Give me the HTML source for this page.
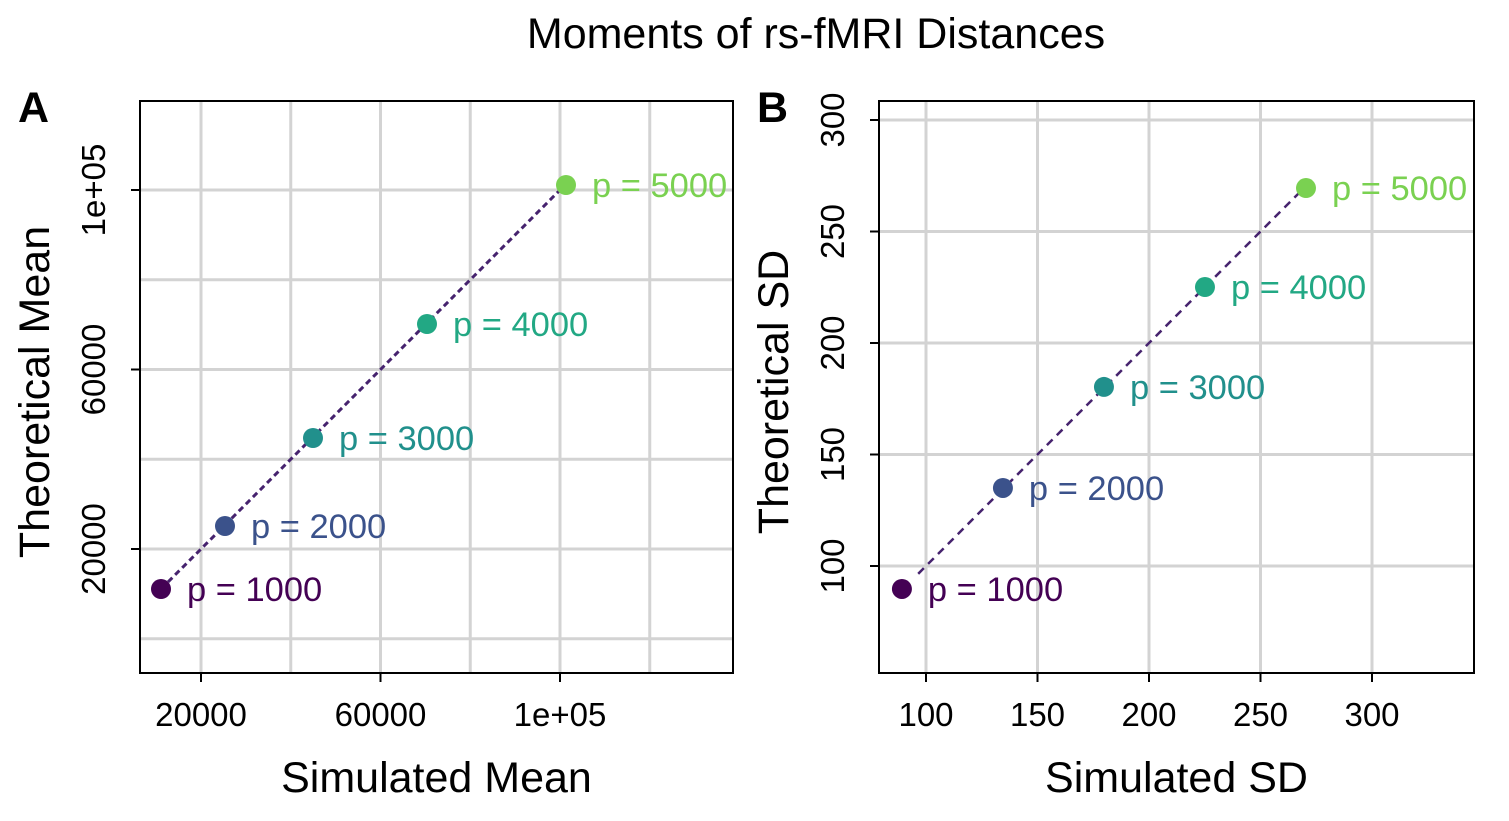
<!DOCTYPE html>
<html><head><meta charset="utf-8"><style>
html,body{margin:0;padding:0;background:#fff;}
svg text{font-family:"Liberation Sans",Arial,sans-serif;}
</style></head><body>
<svg id="chart" width="1509" height="816" xmlns="http://www.w3.org/2000/svg">
<text x="816" y="48" font-size="43" text-anchor="middle">Moments of rs-fMRI Distances</text>
<g id="pa"></g>
<g id="pb"></g>
</svg>
<script>
const labels = ["p = 1000","p = 2000","p = 3000","p = 4000","p = 5000"];
const colors = ["#440154","#3B528B","#21908C","#22A884","#7AD151"];
const meanSim = [11086,25348,44958,70362,101337];
const meanTheo = [11086,25125,44735,70139,101114];
const sdSim = [89.2,134.5,179.8,225.1,270.4];
const sdTheo = [89.7,135,180.3,225.1,269.5];
const meanTicks = [20000,60000,100000];
const meanTickLabels = ["20000","60000","1e+05"];
const meanMinor = [0,40000,80000,120000];
const sdTicks = [100,150,200,250,300];
const sdTickLabels = ["100","150","200","250","300"];
const NS="http://www.w3.org/2000/svg";
function mk(p,t,a){const e=document.createElementNS(NS,t);for(const k in a)e.setAttribute(k,a[k]);p.appendChild(e);return e;}
function panel(g,cfg){
  const {x0,x1,y0,y1,sx,sy,ticks,tickLabels,minor,xs,ys,xt,yt,letter,lx,lineStart,dash}=cfg;
  const clipId='clip'+letter;
  const cp=mk(g,'clipPath',{id:clipId});mk(cp,'rect',{x:x0,y:y0,width:x1-x0,height:y1-y0});
  const gg=mk(g,'g',{'clip-path':`url(#${clipId})`});
  
  minor.concat(ticks).forEach(v=>{
    const l1=mk(gg,'line',{x1:sx(v),x2:sx(v),y1:y0,y2:y1,stroke:'#d3d3d3','stroke-width':3});
    
    const l2=mk(gg,'line',{x1:x0,x2:x1,y1:sy(v),y2:sy(v),stroke:'#d3d3d3','stroke-width':3});
    
  });
  const lo=Math.min(...xs), hi=Math.max(...xs), st=lineStart??lo;
  const dl=mk(gg,'line',{x1:sx(st),y1:sy(st),x2:sx(hi),y2:sy(hi),stroke:'#46236E','stroke-width':dash[2],'stroke-dasharray':dash[0]+' '+dash[1]});
  
  xs.forEach((v,i)=>{
    const c=mk(g,'circle',{cx:sx(v),cy:sy(ys[i]),r:10,fill:colors[i]});
    
    const t=mk(g,'text',{x:sx(v)+26,y:sy(ys[i])+12,'font-size':34.5,fill:colors[i]});t.textContent=labels[i];
    
  });
  const b=mk(g,'rect',{x:x0,y:y0,width:x1-x0,height:y1-y0,fill:'none',stroke:'#000','stroke-width':2});
  
  ticks.forEach((v,i)=>{
    mk(g,'line',{x1:sx(v),x2:sx(v),y1:y1,y2:y1+9,stroke:'#000','stroke-width':2});
    const t=mk(g,'text',{x:sx(v),y:y1+53,'font-size':33,'text-anchor':'middle'});t.textContent=tickLabels[i];
    
    mk(g,'line',{x1:x0-9,x2:x0,y1:sy(v),y2:sy(v),stroke:'#000','stroke-width':2});
    const ty=mk(g,'text',{x:0,y:0,'font-size':33,'text-anchor':'middle',transform:`translate(${x0-35},${sy(v)}) rotate(-90)`});ty.textContent=tickLabels[i];
    
  });
  const xa=mk(g,'text',{x:(x0+x1)/2,y:792,'font-size':43,'text-anchor':'middle'});xa.textContent=xt;
  
  const ya=mk(g,'text',{x:0,y:0,'font-size':43,'text-anchor':'middle',transform:`translate(${x0-91},${(y0+y1)/2+5}) rotate(-90)`});ya.textContent=yt;
  
  const L=mk(g,'text',{x:lx,y:122,'font-size':43,'font-weight':'bold'});L.textContent=letter;
  
}
const ka=179.5/40000;
panel(document.getElementById('pa'),{x0:140,x1:733,y0:101,y1:673,
  sx:v=>201+(v-20000)*ka, sy:v=>549-(v-20000)*ka,
  ticks:meanTicks,tickLabels:meanTickLabels,minor:meanMinor,xs:meanSim,ys:meanTheo,
  xt:'Simulated Mean',yt:'Theoretical Mean',letter:'A',lx:18,dash:[6,4,3]});
const kb=111.5/50;
panel(document.getElementById('pb'),{x0:879,x1:1474,y0:101,y1:673,
  sx:v=>926+(v-100)*kb, sy:v=>566-(v-100)*kb,
  ticks:sdTicks,tickLabels:sdTickLabels,minor:[],xs:sdSim,ys:sdTheo,
  xt:'Simulated SD',yt:'Theoretical SD',letter:'B',lx:757,lineStart:96.5,dash:[8,6,2.5]});
</script>
</body></html>
